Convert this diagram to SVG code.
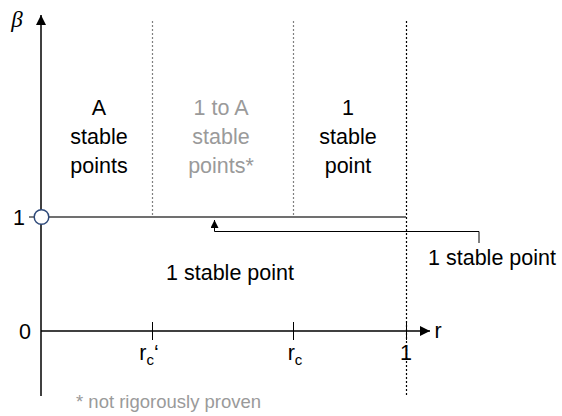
<svg xmlns="http://www.w3.org/2000/svg" width="562" height="416" viewBox="0 0 562 416">
<style>
text{font-family:"Liberation Sans",Arial,sans-serif;font-size:21.5px;fill:#000}
.g{fill:#9a9a9a}
.c{text-anchor:middle}
.axis{stroke:#000;stroke-width:1.5;fill:none}
.dg{stroke:#808080;stroke-width:1.2;stroke-dasharray:2,2;fill:none}
.dk{stroke:#000;stroke-width:1.2;stroke-dasharray:2,2;fill:none}
.thin{stroke:#000;stroke-width:1;fill:none}
</style>
<defs>
<marker id="ah" viewBox="0 0 10 10" refX="10" refY="5" markerWidth="10" markerHeight="10" markerUnits="userSpaceOnUse" orient="auto">
<path d="M0,0L10,5L0,10z" fill="#000"/>
</marker>
<marker id="ahs" viewBox="0 0 10 10" refX="10" refY="5" markerWidth="8" markerHeight="8" markerUnits="userSpaceOnUse" orient="auto">
<path d="M0,0L10,5L0,10z" fill="#000"/>
</marker>
</defs>
<g id="connectors">
<line class="dg" x1="152.5" y1="21" x2="152.5" y2="217"/>
<line class="dg" x1="293.5" y1="21" x2="293.5" y2="217"/>
<line class="dk" x1="406.5" y1="21" x2="406.5" y2="396"/>
<line class="axis" x1="41" y1="396" x2="41" y2="15" marker-end="url(#ah)"/>
<line class="axis" x1="41" y1="331" x2="430" y2="331" marker-end="url(#ah)"/>
<line x1="48" y1="217" x2="406" y2="217" stroke="#404040" stroke-width="1.5"/>
<line class="thin" x1="29" y1="217" x2="34" y2="217"/>
<line class="thin" x1="152.5" y1="322" x2="152.5" y2="340"/>
<line class="thin" x1="293.5" y1="322" x2="293.5" y2="340"/>
<line class="thin" x1="406.5" y1="322" x2="406.5" y2="340"/>
<polyline class="thin" points="479,243 479,231.5 214.5,231.5 214.5,220" marker-end="url(#ahs)"/>
</g>
<g id="origin-circle"><circle cx="41.5" cy="217" r="7.3" fill="#fff" stroke="#2f4a7a" stroke-width="1.5"/></g>
<g id="axis-labels">
<text x="17" y="27" class="c" style="font-family:'Liberation Serif',serif;font-style:italic;font-size:23px">β</text>
<text x="19" y="225" class="c">1</text>
<text x="25" y="339" class="c">0</text>
<text x="438" y="338" class="c">r</text>
<text x="149" y="360" class="c">r<tspan dy="5" font-size="15">c</tspan><tspan dy="-5">‘</tspan></text>
<text x="295" y="360" class="c">r<tspan dy="5" font-size="15">c</tspan></text>
<text x="406" y="360" class="c">1</text>
</g>
<g id="region-a"><text class="c" x="99" y="115">A</text><text class="c" x="99" y="144">stable</text><text class="c" x="99" y="173">points</text></g>
<g id="region-1toA"><text class="c g" x="221" y="115">1 to A</text><text class="c g" x="221" y="144">stable</text><text class="c g" x="221" y="173">points*</text></g>
<g id="region-1"><text class="c" x="348" y="115">1</text><text class="c" x="348" y="144">stable</text><text class="c" x="348" y="173">point</text></g>
<g id="region-below"><text class="c" x="230" y="280">1 stable point</text></g>
<g id="label-line"><text class="c" x="492" y="265">1 stable point</text></g>
<g id="footnote"><text class="g" x="76" y="408" style="font-size:18.5px">* not rigorously proven</text></g>
</svg>
